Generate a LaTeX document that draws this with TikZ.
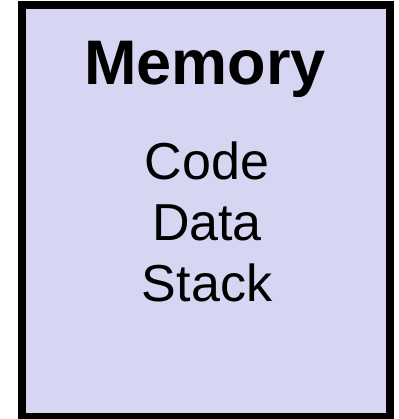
\documentclass[tikz,border=0pt]{standalone}
\usepackage{fontspec}
\setmainfont{Liberation Sans}
\usetikzlibrary{positioning}
\definecolor{lavender}{RGB}{214,214,243}
\begin{document}
\begin{tikzpicture}[x=1pt,y=1pt,membox/.style={draw=black,line width=8pt,fill=lavender,minimum width=368pt,minimum height=412pt,inner sep=0pt},heading/.style={font=\fontsize{63}{63}\selectfont\bfseries,inner sep=0pt},items/.style={font=\fontsize{52}{61}\selectfont,align=center,inner sep=0pt}]
\useasboundingbox (0,0) rectangle (398,419);
\node[membox] (mem) at (206,208) {};
\node[heading,anchor=base] (memtitle) at (205,334) {Memory};
\node[items,anchor=base] (memlist) at (207,117) {Code\\Data\\Stack};
\end{tikzpicture}
\end{document}
